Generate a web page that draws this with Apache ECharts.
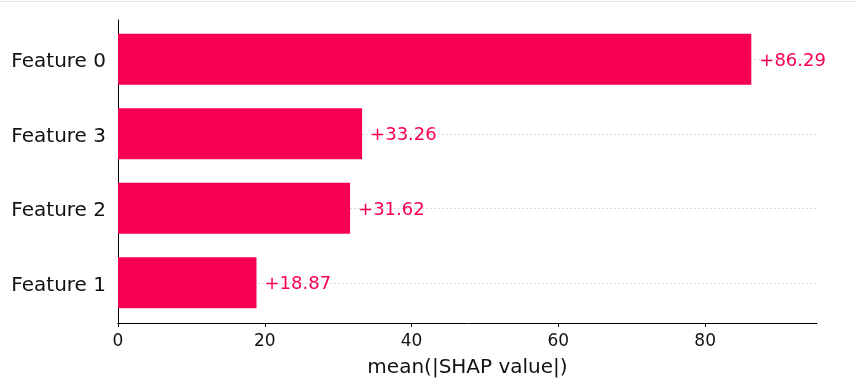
<!DOCTYPE html>
<html>
<head>
<meta charset="utf-8">
<script src="https://cdn.jsdelivr.net/npm/echarts@6/dist/echarts.min.js"></script>
<style>
  html, body { margin: 0; padding: 0; background: #fff; }
  #frame { position: absolute; left: 0; top: 1px; width: 856px; height: 1px; background: #e2e2e2; }
  #chart { width: 856px; height: 385px; }
</style>
</head>
<body>
<div id="chart"></div>
<div id="frame"></div>
<script>
// Categories listed bottom to top
const categories = ['Feature 1', 'Feature 2', 'Feature 3', 'Feature 0'];
const values = [18.87, 31.62, 33.26, 86.29];
const xTicks = [0, 20, 40, 60, 80];
const xMax = 95.24;
const xLabel = 'mean(|SHAP value|)';

const RED = '#F70051';
const FONT = 'DejaVu Sans';

const chart = echarts.init(document.getElementById('chart'), null, { renderer: 'canvas' });

chart.setOption({
  animation: false,
  backgroundColor: '#ffffff',
  grid: [
    { left: 118, width: 699, top: 22, height: 298, containLabel: false },
    { left: 118, width: 699, top: 20, height: 303, containLabel: false }
  ],
  xAxis: [
    { gridIndex: 0, type: 'value', min: 0, max: xMax, show: false },
    {
      gridIndex: 1, type: 'value', min: 0, max: xMax, interval: 20,
      axisLine: { show: true, onZero: false, lineStyle: { color: '#000', width: 1 } },
      axisTick: { show: true, length: 4, lineStyle: { color: '#000' }, customValues: xTicks },
      axisLabel: {
        color: '#111', fontSize: 17, fontFamily: FONT, margin: 10,
        customValues: xTicks
      },
      splitLine: { show: false },
      name: xLabel, nameLocation: 'middle', nameGap: 35,
      nameTextStyle: { color: '#111', fontSize: 20, fontFamily: FONT }
    }
  ],
  yAxis: [
    {
      gridIndex: 0, type: 'category', data: categories,
      axisLine: { show: false }, axisTick: { show: false },
      axisLabel: {
        color: '#111', fontSize: 20, fontFamily: FONT, margin: 12,
        formatter: v => '{f|' + v + '}',
        rich: { f: { color: '#111', fontSize: 20, fontFamily: FONT, padding: [6, 0, 0, 0] } }
      },
      splitLine: { show: false }
    },
    {
      gridIndex: 1, type: 'value', min: 0, max: 1,
      axisLine: { show: true, onZero: false, lineStyle: { color: '#000', width: 1 } },
      axisTick: { show: false }, axisLabel: { show: false }, splitLine: { show: false }
    }
  ],
  series: [
    {
      type: 'line', xAxisIndex: 0, yAxisIndex: 0, data: [], z: 1,
      silent: true,
      markLine: {
        z: 1, silent: true, symbol: ['none', 'none'], label: { show: false },
        lineStyle: { color: '#cccccc', width: 1, type: [1.5, 2.5] },
        data: categories.map(c => ({ yAxis: c }))
      }
    },
    {
      type: 'bar', xAxisIndex: 0, yAxisIndex: 0, z: 3,
      data: values, barWidth: 51,
      itemStyle: { color: RED },
      label: {
        show: true, position: 'right', distance: 8, offset: [0, 2],
        color: RED, fontSize: 18, fontFamily: FONT,
        formatter: p => '+' + p.value.toFixed(2)
      }
    }
  ]
});
</script>
</body>
</html>
